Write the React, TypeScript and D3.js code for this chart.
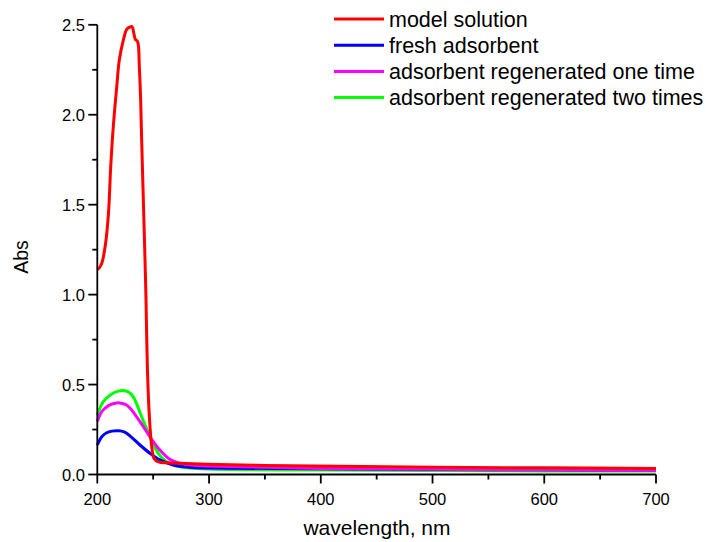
import React from "react";
import * as d3 from "d3";

const xTicks = [200, 300, 400, 500, 600, 700];
const xMinor = [250, 350, 450, 550, 650];
const yTicks = [0, 0.5, 1.0, 1.5, 2.0, 2.5];
const yMinor = [0.25, 0.75, 1.25, 1.75, 2.25];

const redWl = [200, 202, 204, 207, 210, 212, 214.3, 217.4, 219.7, 223.3, 226.3, 228.7, 231, 232.8, 234, 236.1, 237.6, 238.8, 239.7, 241.2, 242.7, 243.6, 244.8, 246.6, 248.7, 250.7, 253, 256, 265, 274, 298, 350, 417, 500, 600, 700];
const redAbs = [1.14, 1.15, 1.174, 1.266, 1.452, 1.711, 1.933, 2.156, 2.304, 2.415, 2.475, 2.486, 2.49, 2.45, 2.42, 2.406, 2.267, 2.082, 1.86, 1.526, 1.192, 0.97, 0.599, 0.321, 0.155, 0.09, 0.075, 0.068, 0.064, 0.062, 0.057, 0.05, 0.046, 0.041, 0.037, 0.034];

const blueWl = [200, 204, 208.4, 213, 219, 224, 229.2, 238.2, 247.1, 256, 268, 283, 300, 400, 500, 600, 700];
const blueAbs = [0.164, 0.21, 0.232, 0.241, 0.243, 0.237, 0.215, 0.164, 0.118, 0.081, 0.053, 0.04, 0.036, 0.032, 0.028, 0.026, 0.025];

const magentaWl = [200, 204, 210, 215, 220, 225, 229.2, 238.2, 247.1, 256, 265, 274, 290, 320, 400, 500, 600, 700];
const magentaAbs = [0.294, 0.349, 0.383, 0.395, 0.398, 0.39, 0.37, 0.294, 0.21, 0.136, 0.084, 0.062, 0.05, 0.045, 0.034, 0.029, 0.026, 0.024];

const greenWl = [200, 205.4, 212.9, 218, 223.3, 228, 232.2, 239.7, 247.1, 254.5, 262, 274, 300, 400, 500, 600, 700];
const greenAbs = [0.331, 0.405, 0.448, 0.462, 0.467, 0.458, 0.432, 0.321, 0.21, 0.118, 0.071, 0.043, 0.03, 0.025, 0.022, 0.02, 0.02];

const seriesNames = ["model solution", "fresh adsorbent", "adsorbent regenerated one time", "adsorbent regenerated two times"];
const seriesColors = ["#ff0000", "#0000ff", "#ff00ff", "#00ff00"];

const FONT = "'Liberation Sans', Arial, Helvetica, sans-serif";

export default function App() {
  const x = d3.scaleLinear().domain([200, 700]).range([97.3, 656]);
  const y = d3.scaleLinear().domain([0, 2.5]).range([474.5, 24.8]);

  const line = d3
    .line<[number, number]>()
    .x((d) => x(d[0]))
    .y((d) => y(d[1]))
    .curve(d3.curveCatmullRom.alpha(0.5));

  const zip = (a: number[], b: number[]) => a.map((v, i) => [v, b[i]] as [number, number]);

  const series = [
    zip(redWl, redAbs),
    zip(blueWl, blueAbs),
    zip(magentaWl, magentaAbs),
    zip(greenWl, greenAbs),
  ];
  const drawOrder = [3, 1, 2, 0];

  const x0 = x.range()[0];
  const y0 = y.range()[0];

  return (
    <svg
      width={706}
      height={542}
      style={{ position: "absolute", left: 0, top: 0, background: "#fff" }}
      fontFamily={FONT}
    >
      <rect width={706} height={542} fill="#fff" />
      {drawOrder.map((i) => (
        <path
          key={i}
          d={line(series[i]) || ""}
          fill="none"
          stroke={seriesColors[i]}
          strokeWidth={3}
          strokeLinejoin="round"
        />
      ))}
      {/* axes */}
      <line x1={x0} x2={x0} y1={y(2.5)} y2={y0} stroke="#000" strokeWidth={1.8} />
      <line x1={x0} x2={x(700)} y1={y0} y2={y0} stroke="#000" strokeWidth={1.8} />
      {xTicks.map((t) => (
        <g key={"xt" + t}>
          <line x1={x(t)} x2={x(t)} y1={y0} y2={y0 + 9} stroke="#000" strokeWidth={1.8} />
          <text x={x(t)} y={505} textAnchor="middle" fontSize={16.5} fill="#000">
            {t}
          </text>
        </g>
      ))}
      {xMinor.map((t) => (
        <line key={"xm" + t} x1={x(t)} x2={x(t)} y1={y0} y2={y0 + 5} stroke="#000" strokeWidth={1.8} />
      ))}
      {yTicks.map((t) => (
        <g key={"yt" + t}>
          <line x1={x0 - 9} x2={x0} y1={y(t)} y2={y(t)} stroke="#000" strokeWidth={1.8} />
          <text x={85} y={y(t) + 6} textAnchor="end" fontSize={16.5} fill="#000">
            {d3.format(".1f")(t)}
          </text>
        </g>
      ))}
      {yMinor.map((t) => (
        <line key={"ym" + t} x1={x0 - 5} x2={x0} y1={y(t)} y2={y(t)} stroke="#000" strokeWidth={1.8} />
      ))}
      <text x={377} y={535} textAnchor="middle" fontSize={21} fill="#000">
        wavelength, nm
      </text>
      <text
        transform={`translate(28, 257) rotate(-90)`}
        textAnchor="middle"
        fontSize={19.5}
        fill="#000"
      >
        Abs
      </text>
      {/* legend */}
      {seriesNames.map((name, i) => {
        const ly = 19 + i * 26.2;
        return (
          <g key={name}>
            <line x1={334} x2={384} y1={ly} y2={ly} stroke={seriesColors[i]} strokeWidth={3} />
            <text x={389} y={ly + 7.5} fontSize={21.5} fill="#000">
              {name}
            </text>
          </g>
        );
      })}
    </svg>
  );
}
